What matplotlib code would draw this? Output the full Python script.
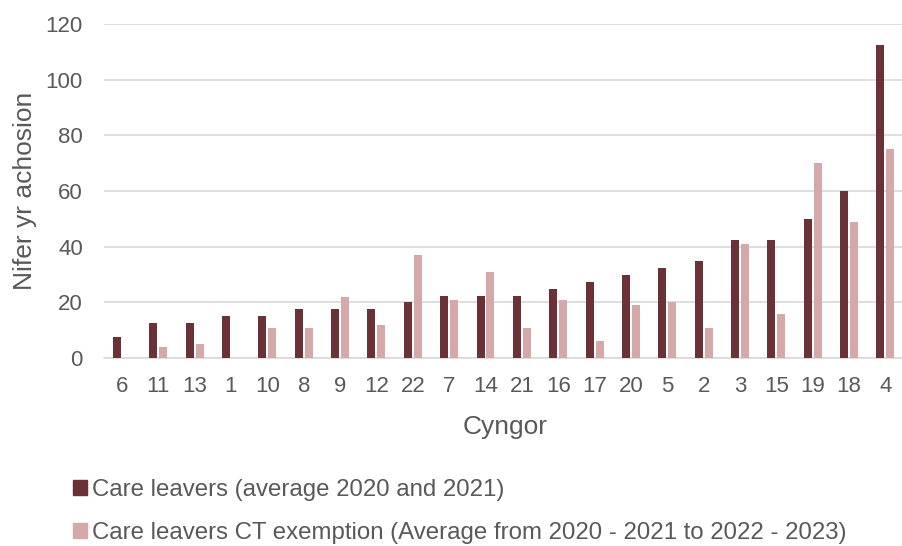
import numpy as np
import matplotlib.pyplot as plt
from matplotlib.patches import Patch

plt.rcParams['font.family'] = ['Liberation Sans', 'DejaVu Sans']

# data
councils = ['6', '11', '13', '1', '10', '8', '9', '12', '22', '7', '14', '21',
            '16', '17', '20', '5', '2', '3', '15', '19', '18', '4']
care_leavers = [7.5, 12.5, 12.5, 15, 15, 17.5, 17.5, 17.5, 20, 22.5, 22.5, 22.5,
                25, 27.5, 30, 32.5, 35, 42.5, 42.5, 50, 60, 112.5]
ct_exemption = [0, 4, 5, 0, 11, 11, 22, 12, 37, 21, 31, 11,
                21, 6, 19, 20, 11, 41, 16, 70, 49, 75]
series_names = ['Care leavers (average 2020 and 2021)',
                'Care leavers CT exemption (Average from 2020 - 2021 to 2022 - 2023)']

dark = '#6A3236'
light = '#D5A9A9'
grey_txt = '#595959'
grid_c = '#D9D9D9'

fig = plt.figure(figsize=(9.02, 5.46), dpi=100)
ax = fig.add_axes([0.115, 0.344, 0.89, 0.612])

x = np.arange(len(councils))
w = 0.22
ax.bar(x - 0.137, care_leavers, w, color=dark, zorder=3)
ax.bar(x + 0.137, ct_exemption, w, color=light, zorder=3)

ax.set_xlim(-0.5, len(councils) - 0.42)
ax.set_ylim(0, 120)
ax.set_yticks(range(0, 121, 20))
ax.set_xticks(x)
ax.set_xticklabels(councils)
ax.yaxis.grid(True, color=grid_c, linewidth=1.2, zorder=0)
ax.tick_params(axis='both', length=0, labelsize=16, labelcolor=grey_txt)
ax.tick_params(axis='x', pad=13)
ax.tick_params(axis='y', pad=15)
for s in ['top', 'right', 'left']:
    ax.spines[s].set_visible(False)
ax.spines['bottom'].set_color(grid_c)
ax.spines['bottom'].set_linewidth(1.2)

ax.set_xlabel('Cyngor', fontsize=19, color=grey_txt, labelpad=13)
ax.set_ylabel('Nifer yr achosion', fontsize=19, color=grey_txt, labelpad=6)

handles = [Patch(color=dark), Patch(color=light)]
leg = fig.legend(handles, series_names, loc='upper left',
                 frameon=False, fontsize=17.3, labelcolor=grey_txt,
                 handlelength=0.6, handleheight=0.6, handletextpad=0.2,
                 labelspacing=0.88, borderaxespad=0, borderpad=0)
leg.set_bbox_to_anchor((0.081, 0.123), transform=fig.transFigure)

fig.savefig('out.png', dpi=100)
